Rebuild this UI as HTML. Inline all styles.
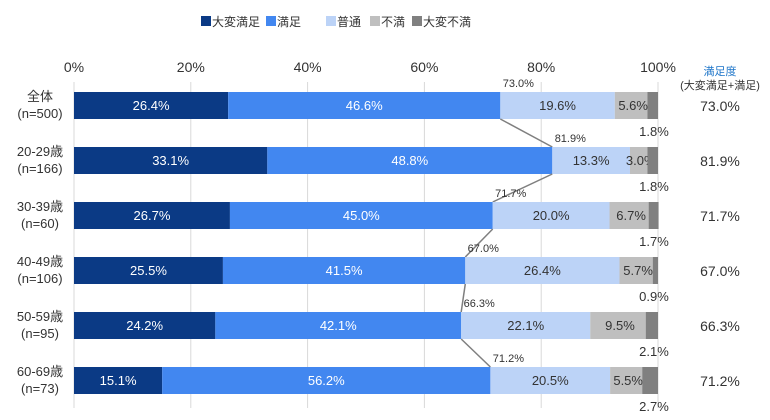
<!DOCTYPE html>
<html><head><meta charset="utf-8"><style>
body{margin:0;background:#fff;font-family:"Liberation Sans","Noto Sans CJK JP",sans-serif;}
svg text{font-family:"Liberation Sans","Noto Sans CJK JP",sans-serif;}
</style></head><body>
<svg id="c" width="770" height="415"></svg>
<script>
const categories=["全体|(n=500)","20-29歳|(n=166)","30-39歳|(n=60)","40-49歳|(n=106)","50-59歳|(n=95)","60-69歳|(n=73)"];
const verySatisfied=[26.4,33.1,26.7,25.5,24.2,15.1];
const satisfied=[46.6,48.8,45.0,41.5,42.1,56.2];
const neutral=[19.6,13.3,20.0,26.4,22.1,20.5];
const dissatisfied=[5.6,3.0,6.7,5.7,9.5,5.5];
const veryDissatisfied=[1.8,1.8,1.7,0.9,2.1,2.7];
const satisfactionRate=[73.0,81.9,71.7,67.0,66.3,71.2];
const xTicks=[0,20,40,60,80,100];
const seriesNames=["大変満足","満足","普通","不満","大変不満"];
const colors=["#0b3a85","#4287f0","#bcd3f7","#bfbfbf","#808080"];
const textColors=["#fff","#fff","#333","#333","#333"];
const NS="http://www.w3.org/2000/svg",svg=document.getElementById('c');
const x=v=>74+v*5.84;
const yTop=i=>92+i*55;
const H=27;
function el(t,a,p){const e=document.createElementNS(NS,t);for(const k in a)e.setAttribute(k,a[k]);(p||svg).appendChild(e);return e;}
function tx(s,a){const e=el('text',Object.assign({'font-size':13,fill:'#333','text-anchor':'middle'},a));e.textContent=s;return e;}
// legend
const lx=[202,272,332,380,420];
const legendX=[201,266,326,370,412];
seriesNames.forEach((n,k)=>{const g=el('g',{});


el('rect',{x:legendX[k],y:16,width:10,height:10,fill:colors[k]},g);
const t=el('text',{x:legendX[k]+11,y:26,'font-size':12,fill:'#333'},g);t.textContent=n;});
// grid
xTicks.forEach(v=>{const l=el('line',{x1:x(v),x2:x(v),y1:82,y2:408,stroke:'#d9d9d9','stroke-width':1});


const t=tx(v+'%',{x:x(v),y:72,'font-size':14});

});
const h1=tx('満足度',{x:720,y:75,'font-size':11,fill:'#1a73c8'});


tx('(大変満足+満足)',{x:720,y:89,'font-size':11});
const series=[verySatisfied,satisfied,neutral,dissatisfied,veryDissatisfied];
categories.forEach((c,i)=>{
 const y0=yTop(i);const parts=c.split('|');
 const l1=tx(parts[0],{x:40,y:y0+9,'font-size':13});
 
 
 tx(parts[1],{x:40,y:y0+26,'font-size':13});
 let acc=0;
 series.forEach((s,k)=>{const v=s[i];
  const r=el('rect',{x:x(acc),y:y0,width:x(acc+v)-x(acc),height:H,fill:colors[k]});
  
  
  if(k<4){tx(v.toFixed(1)+'%',{x:(x(acc)+x(acc+v))/2+(k==3?2:0),y:y0+18,fill:textColors[k],'font-size':13});}
  else{tx(v.toFixed(1)+'%',{x:x(100)-4,y:y0+H+17,'font-size':13});}
  acc+=v;});
 const cum=verySatisfied[i]+satisfied[i];
 tx(satisfactionRate[i].toFixed(1)+'%',{x:x(cum)+18,y:y0-5,'font-size':11});
 const rv=tx(satisfactionRate[i].toFixed(1)+'%',{x:720,y:y0+19,'font-size':14});
 
 
 if(i<categories.length-1){const n=verySatisfied[i+1]+satisfied[i+1];
  const ln=el('line',{x1:x(cum),y1:y0+H,x2:x(n),y2:yTop(i+1),stroke:'#7f7f7f','stroke-width':1.5});
  
  }
});
</script>
</body></html>
